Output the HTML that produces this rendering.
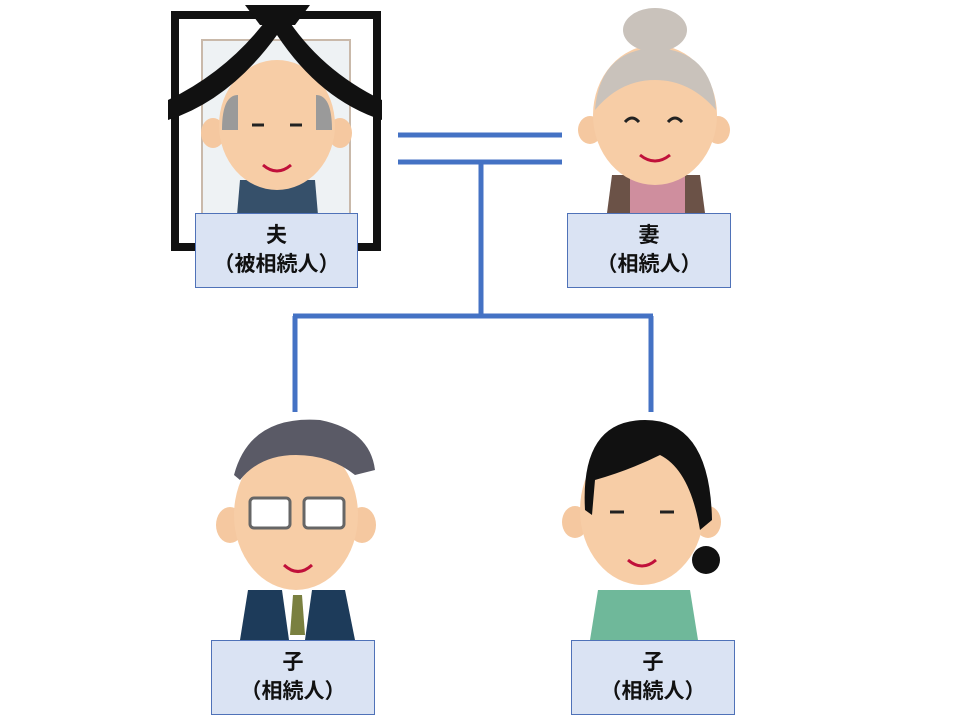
<!DOCTYPE html>
<html><head><meta charset="utf-8"><style>
html,body{margin:0;padding:0;background:#fff;width:960px;height:720px;overflow:hidden}
.lb{position:absolute;background:#dae3f3;border:1px solid #4f72b8;box-sizing:border-box;text-align:center;font-family:"Liberation Sans","Noto Sans CJK JP",sans-serif;font-size:21px;font-weight:bold;line-height:29px;color:#111;padding-top:7px}
</style></head><body>
<svg width="960" height="720" style="position:absolute;left:0;top:0">
<g stroke="#4472c4" stroke-width="5" fill="none">
<line x1="398" y1="135" x2="562" y2="135"/><line x1="398" y1="162" x2="562" y2="162"/>
<line x1="481" y1="162" x2="481" y2="316"/><line x1="293" y1="316" x2="653" y2="316"/>
<line x1="295" y1="316" x2="295" y2="412"/><line x1="651" y1="316" x2="651" y2="412"/>
</g>
<!-- husband frame -->
<rect x="175" y="15" width="202" height="232" fill="none" stroke="#111" stroke-width="8"/>
<rect x="202" y="40" width="148" height="180" fill="#eef2f4" stroke="#c9b9aa" stroke-width="2"/>
<ellipse cx="213" cy="133" rx="12" ry="15" fill="#f5c8a0"/><ellipse cx="340" cy="133" rx="12" ry="15" fill="#f5c8a0"/>
<path d="M240 180 L315 180 L318 215 L237 215Z" fill="#36506a"/>
<ellipse cx="277" cy="125" rx="58" ry="65" fill="#f7cda6"/>
<path d="M222 130 Q222 95 238 95 L238 130Z M332 130 Q332 95 316 95 L316 130Z" fill="#9a9a9a"/>
<path d="M168 100 Q230 70 270 15 L285 15 Q320 70 382 100 L382 120 Q320 100 277 35 Q230 100 168 120Z" fill="#111"/>
<path d="M245 5 L310 5 L295 25 L260 25Z" fill="#111"/>
<g stroke="#222" stroke-width="3" fill="none"><path d="M252 125 L264 125 M290 125 L302 125"/></g>
<path d="M263 165 Q277 177 291 165" stroke="#c0103a" stroke-width="3" fill="none"/>
<!-- wife -->
<ellipse cx="590" cy="130" rx="12" ry="14" fill="#f5c8a0"/><ellipse cx="718" cy="130" rx="12" ry="14" fill="#f5c8a0"/>
<path d="M612 175 L700 175 L705 213 L607 213Z" fill="#6b5247"/>
<path d="M630 175 L685 175 L685 213 L630 213Z" fill="#cf8e9e"/>
<ellipse cx="655" cy="115" rx="62" ry="70" fill="#f7cda6"/>
<path d="M595 110 Q600 50 655 48 Q712 50 716 110 Q690 80 655 80 Q620 80 595 110Z" fill="#c9c2bb"/>
<ellipse cx="655" cy="30" rx="32" ry="22" fill="#c9c2bb"/>
<g stroke="#222" stroke-width="3" fill="none"><path d="M625 122 Q632 114 639 122 M668 122 Q675 114 682 122"/></g>
<path d="M640 155 Q655 167 670 155" stroke="#c0103a" stroke-width="3" fill="none"/>
<!-- son -->
<ellipse cx="230" cy="525" rx="14" ry="18" fill="#f5c8a0"/><ellipse cx="362" cy="525" rx="14" ry="18" fill="#f5c8a0"/>
<path d="M248 590 L345 590 L355 640 L240 640Z" fill="#1d3b5a"/>
<path d="M282 590 L312 590 L305 640 L289 640Z" fill="#fff"/>
<path d="M293 595 L302 595 L305 635 L290 635Z" fill="#7a8040"/>
<ellipse cx="296" cy="515" rx="62" ry="75" fill="#f7cda6"/>
<path d="M234 475 Q250 415 320 420 Q370 430 375 470 L355 475 Q330 455 296 455 Q260 455 240 480Z" fill="#5a5a66"/>
<rect x="250" y="498" width="40" height="30" rx="4" fill="#fff" stroke="#666" stroke-width="3"/>
<rect x="304" y="498" width="40" height="30" rx="4" fill="#fff" stroke="#666" stroke-width="3"/>
<path d="M284 565 Q298 578 312 565" stroke="#c0103a" stroke-width="3" fill="none"/>
<!-- daughter -->
<ellipse cx="575" cy="522" rx="13" ry="16" fill="#f5c8a0"/><ellipse cx="708" cy="522" rx="13" ry="16" fill="#f5c8a0"/>
<circle cx="706" cy="560" r="14" fill="#111"/>
<path d="M598 590 L690 590 L698 640 L590 640Z" fill="#6fb89a"/>
<ellipse cx="642" cy="510" rx="62" ry="75" fill="#f7cda6"/>
<path d="M585 510 Q580 420 645 420 Q710 420 712 520 L700 530 Q690 470 660 455 Q630 470 595 480 L592 515Z" fill="#111"/>
<g stroke="#222" stroke-width="3" fill="none"><path d="M610 512 L624 512 M660 512 L674 512"/></g>
<path d="M628 560 Q642 572 656 560" stroke="#c0103a" stroke-width="3" fill="none"/>
</svg>
<div class="lb" style="left:195px;top:213px;width:163px;height:75px">夫<br>（被相続人）</div>
<div class="lb" style="left:567px;top:213px;width:164px;height:75px">妻<br>（相続人）</div>
<div class="lb" style="left:211px;top:640px;width:164px;height:75px">子<br>（相続人）</div>
<div class="lb" style="left:571px;top:640px;width:164px;height:75px">子<br>（相続人）</div>
</body></html>
